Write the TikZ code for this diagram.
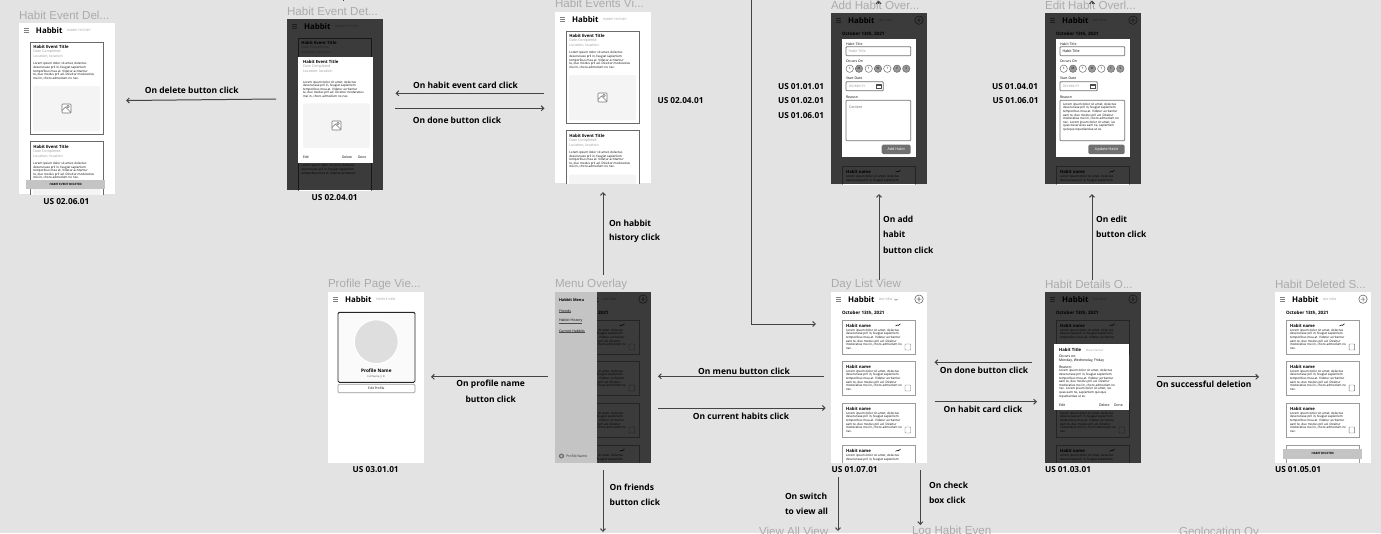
\documentclass[tikz,border=0pt]{standalone}
\usepackage{fontspec}
\setmainfont{Open Sans}
\newfontfamily\figf{Liberation Sans}
\usetikzlibrary{arrows.meta}
\definecolor{bgc}{HTML}{E3E3E3}
\definecolor{linec}{HTML}{444444}
\definecolor{titlec}{HTML}{ABABAB}
\definecolor{grayt}{HTML}{9A9A9A}
\definecolor{cardl}{HTML}{9C9C9C}
\definecolor{evl}{HTML}{6A6A6A}
\definecolor{imgc}{HTML}{F4F4F4}
\definecolor{toastc}{HTML}{C4C4C4}
\definecolor{btnc}{HTML}{707070}
\newcommand\fs[2]{\fontsize{#1}{#2}\selectfont}
\tikzset{
  t/.style={inner sep=0pt,outer sep=0pt,anchor=west},
  conn/.style={draw=linec,line width=.75pt,-{Straight Barb[length=2pt,width=3.8pt]}},
  plainl/.style={draw=linec,line width=.75pt},
  frametitle/.style={t,text=titlec,font=\figf\fs{8.7}{9}},
  act/.style={inner sep=0pt,outer sep=0pt,text=black,font=\fs{6.35}{7}\bfseries},
  actl/.style={act,anchor=west},
  us/.style={inner sep=0pt,outer sep=0pt,text=black,font=\fs{6.2}{7}\bfseries},
  burger/.style={draw=black!50,line width=.45pt},
  cardb/.style={draw=cardl,line width=.65pt,fill=white},
  evb/.style={draw=evl,line width=.65pt,fill=white},
  mini/.style={t,font=\fs{2.6}{2.8}},
  minib/.style={t,font=\fs{3.2}{3.4}\bfseries},
  graym/.style={t,text=grayt,font=\fs{2.7}{3}},
  body/.style={inner sep=0pt,outer sep=0pt,anchor=north west,align=left,font=\fs{2.3}{2.7}},
  field/.style={draw=black!55,line width=.6pt,rounded corners=.6pt,fill=white},
  dim/.style={fill=black,opacity=.77},
  toast/.style={fill=toastc},
}
\newcommand\loremsix{Lorem ipsum dolor sit amet, dolectus\\deserunase pril in, feugiat sapienlem\\temporibus mea at. Videtur acritantur\\eam te, duo modus pril ad. Diceitur\\moderatius mei in, choro admodum no\\nec.}
\newcommand\loremtwo{Lorem ipsum dolor sit amet, dolectus\\deserunase pril in, feugiat sapienlem}
\newcommand\loremthree{Lorem ipsum dolor sit amet, dolectus\\deserunase pril in, feugiat sapienlem\\temporibus mea at. Videtur acritantur}
\newcommand\loremfive{Lorem ipsum dolor sit amet, dolectus\\deserunase pril in, feugiat sapienlem\\temporibus mea at. Videtur acritantur\\te, duo modus pril ad. Diceitur moderatius\\mei in, choro admodum no nec.}
\newcommand\appbar[2]{%
  \draw[burger] (5,5.3)--(10,5.3) (5,7.2)--(10,7.2) (5,9.1)--(10,9.1);
  \node[t,font=\fs{5.9}{6}\bfseries] (#1-brand) at (17,7.2) {Habbit};
  \node[t,text=grayt,font=\fs{2.25}{2.5}] (#1-sub) at (48,7.7) {#2};
}
\newcommand\plusicon{%
  \draw[black!65,line width=.4pt] (88,7.2) circle (4.2) (85.6,7.2)--(90.4,7.2) (88,4.8)--(88,9.6);
}
\newcommand\checkb[1]{%
  \draw[black!55,line width=.35pt,rounded corners=.4pt] (74,#1+24) rectangle (79.5,#1+30);
}
\newcommand\habitcard[2]{%
  \draw[cardb] (11.3,#2) rectangle (84,#2+34);
  \node[minib] (#1-title) at (15,#2+5.6) {Habit name};
  \node[body] (#1-body) at (15,#2+9) {\loremsix};
  \checkb{#2}
}
\newcommand\lastcard[2]{%
  \draw[cardb] (11.3,#2) rectangle (84,#2+34);
  \node[minib] (#1-title) at (15,#2+5.6) {Habit name};
  \node[body] (#1-body) at (15,#2+9) {\loremtwo};
}
\newcommand\trendicon[1]{%
  \draw[black,line width=.4pt] (64.5,#1+6)--(66.5,#1+5)--(67.5,#1+5.4)--(69.5,#1+3.8);
}
\newcommand\dayshell[2]{%
  \fill[white] (0,0) rectangle (96,170.5);
  \appbar{#1}{#2}
  \plusicon
  \node[t,font=\fs{3.4}{3.6}\bfseries] (#1-date) at (11,21) {October 13th, 2021};
}
\newcommand\dayscreen[2]{%
  \dayshell{#1}{#2}
  \habitcard{#1-c1}{28}\trendicon{28}
  \habitcard{#1-c2}{69}
  \habitcard{#1-c3}{111}
  \lastcard{#1-c4}{153.3}\trendicon{153.3}
}
\newcommand\imgicon[2]{%
  \draw[black!55,line width=.4pt,fill=white,rounded corners=.5pt] (#1-4.5,#2-4.5) rectangle (#1+4.5,#2+4.5);
  \draw[black!55,line width=.35pt] (#1-4.5,#2+2)--(#1-1,#2-1.5)--(#1+4.5,#2+4);
  \draw[black!55,line width=.35pt] (#1+1.5,#2-2) circle (1.2);
}
\newcommand\eventheads[3]{%
  \node[minib] (#1-title) at (#2,#3+5) {Habit Event Title};
  \node[graym] (#1-d) at (#2,#3+10) {Date Completed};
  \node[graym] (#1-l) at (#2,#3+14.6) {Location, location};
}
\newcommand\eventtexts[4]{%
  \eventheads{#1}{#2}{#3}
  \node[body] (#1-body) at (#2,#3+#4) {\loremfive};
}
\newcommand\eventcard[2]{%
  \draw[evb] (11.3,#2) rectangle (84.3,#2+92.3);
  \eventtexts{#1}{14.3}{#2}{20.5}
  \fill[imgc,rounded corners=1.5pt] (14,#2+44) rectangle (81,#2+89);
  \imgicon{47.5}{#2+66.5}
}
\newcommand\eventscreen[1]{%
  \fill[white] (0,0) rectangle (96,170.5);
  \appbar{#1}{HABBIT HISTORY}
  \eventcard{#1-e1}{19}
  \eventcard{#1-e2}{118.7}
}
\newcommand\overlayform[3]{%
  \fill[white] (10.7,26.3) rectangle (84.7,144.3);
  \node[mini] (#1-l1) at (15,31) {Habit Title};
  \draw[field] (15,33.7) rectangle (79.7,42.7);
  \node[t,font=\fs{2.7}{3},text=#2] (#1-f1) at (17.5,38.3) {Habit Title};
  \node[mini] (#1-l2) at (15,48.3) {Occurs On};
  \foreach \cx/\lt/\cf in {18.7/S/white,28/M/black!40,37.7/T/white,47/W/black!40,56.3/T/white,66/F/black!40,75.3/S/black!40}{
    \draw[black!60,line width=.35pt,fill=\cf] (\cx,55.7) circle (3.7);
    \node[inner sep=0pt,font=\fs{2.2}{2.4}] at (\cx,55.7) {\lt};
  }
  \node[mini] (#1-l3) at (15,65.3) {Start Date};
  \draw[field] (15,68.7) rectangle (52.3,77.7);
  \node[t,font=\fs{2.4}{3},text=grayt] (#1-f2) at (18,73.3) {DD/MM/YY};
  \draw[black!70,line width=.35pt] (45.5,70.8) rectangle (50,75.5) (45.5,71.9)--(50,71.9);
  \node[mini] (#1-l4) at (15,84) {Reason};
  \draw[field] (15,87.3) rectangle (79.7,127.7);
  #3
}
\newcommand\conn[5]{%
  \coordinate (#1-a) at (#2,#3);
  \coordinate (#1-b) at (#4,#5);
  \draw[conn] (#1-a) -- (#1-b);
}
\begin{document}
\begin{tikzpicture}[x=.75pt,y=-.75pt]
\useasboundingbox (0,0) rectangle (1381,533);
\fill[bgc] (0,0) rectangle (1381,533);
\clip (0,0) rectangle (1381,533);

% frame titles
\node[frametitle] (ttl1) at (19,15) {Habit Event Del...};
\node[frametitle] (ttl2) at (287,11) {Habit Event Det...};
\node[frametitle] (ttl3) at (555,3.5) {Habit Events Vi...};
\node[frametitle] (ttl4) at (831,5) {Add Habit Over...};
\node[frametitle] (ttl5) at (1045,5) {Edit Habit Overl...};
\node[frametitle] (ttl6) at (328,284) {Profile Page Vie...};
\node[frametitle] (ttl7) at (555,284) {Menu Overlay};
\node[frametitle] (ttl8) at (831,284) {Day List View};
\node[frametitle] (ttl9) at (1045,284) {Habit Details O...};
\node[frametitle] (ttl10) at (1275,284) {Habit Deleted S...};
\node[frametitle] (ttl11) at (759,531.5) {View All View};
\node[frametitle] (ttl12) at (912,531.5) {Log Habit Even};
\node[frametitle] (ttl13) at (1179,531.5) {Geolocation Ov};

% Habit Event Deleted
\begin{scope}[shift={(19,23)}]
  \clip (0,0) rectangle (96,171);
  \eventscreen{del}
  \fill[toast] (7.3,157) rectangle (86,166.3);
  \node[inner sep=0pt,font=\fs{2.2}{2.4}\bfseries] (del-toast) at (46.7,161.7) {HABIT EVENT DELETED};
\end{scope}

% Habit Event Details
\begin{scope}[shift={(287,19)}]
  \clip (0,0) rectangle (96,171);
  \fill[white] (0,0) rectangle (96,171);
  \appbar{det}{HABBIT HISTORY}
  \draw[evb] (11.3,19) rectangle (84.3,111.3);
  \eventheads{det-e1}{14.3}{19}
  \draw[evb] (11.3,118.7) rectangle (84.3,211);
  \node[body] (det-e2-body) at (14.3,145.6) {\loremthree};
  \fill[dim] (0,0) rectangle (96,171);
  \fill[white] (11,37.7) rectangle (85.7,144.3);
  \eventtexts{det-m}{16}{37.7}{24}
  \fill[imgc,rounded corners=1.5pt] (16,84.3) rectangle (82.7,129);
  \imgicon{49.5}{106.5}
  \node[mini,font=\fs{2.5}{2.8}] (det-edit) at (16,138.5) {Edit};
  \node[mini,font=\fs{2.5}{2.8}] (det-delete) at (55,138.5) {Delete};
  \node[mini,font=\fs{2.5}{2.8}] (det-done) at (71,138.5) {Done};
\end{scope}

% Habit Events View
\begin{scope}[shift={(555,12)}]
  \clip (0,0) rectangle (96,171);
  \eventscreen{evv}
\end{scope}

% Add Habit Overlay
\begin{scope}[shift={(831,13)}]
  \clip (0,0) rectangle (96,171);
  \dayshell{add}{DAY VIEW}
  \lastcard{add-c4}{153.3}\trendicon{153.3}
  \fill[dim] (0,0) rectangle (96,171);
  \overlayform{add}{grayt}{%
    \node[t,font=\fs{2.7}{3},text=black!60] (add-cnt) at (18,94.3) {Content};
    \fill[btnc,rounded corners=1pt] (50.7,131.7) rectangle (79.7,141);
    \node[inner sep=0pt,text=white,font=\fs{2.8}{3}] (add-btn) at (65.2,136.4) {Add Habit};}
\end{scope}

% Edit Habit Overlay
\begin{scope}[shift={(1045,13)}]
  \clip (0,0) rectangle (96,171);
  \dayshell{edit}{DAY VIEW}
  \lastcard{edit-c4}{153.3}\trendicon{153.3}
  \fill[dim] (0,0) rectangle (96,171);
  \overlayform{edit}{black}{%
    \node[body] (edit-body) at (18,90) {Lorem ipsum dolor sit amet, dolectus\\deserunase pril in, feugiat sapienlem\\temporibus mea at. Videtur acritantur\\eam te, duo modus pril ad. Diceitur\\moderatius mei in, choro admodum no\\nec. Lorem ipsum dolor sit amet, ius\\quas deseruisse eam ne, sapientem\\quisque repudiandae ut ex.};
    \fill[btnc,rounded corners=1pt] (43.3,131.7) rectangle (79.7,141);
    \node[inner sep=0pt,text=white,font=\fs{2.8}{3}] (edit-btn) at (61.5,136.4) {Update Habit};}
\end{scope}

% Profile Page View
\begin{scope}[shift={(328,292)}]
  \clip (0,0) rectangle (96,170.5);
  \fill[white] (0,0) rectangle (96,170.5);
  \appbar{prof}{PROFILE VIEW}
  \draw[black!85,line width=.7pt,rounded corners=1pt,fill=black!2] (10,20.3) rectangle (87,90.3);
  \draw[white,line width=.8pt,fill=black!13] (48.3,49.7) circle (22);
  \node[inner sep=0pt,font=\fs{3.5}{3.7}\bfseries] (prof-name) at (48.3,78.3) {Profile Name};
  \node[inner sep=0pt,text=black!70,font=\fs{1.9}{2.2}] (prof-full) at (48.3,85) {Full Name, Jr III};
  \draw[draw=black!40,line width=.5pt,rounded corners=.8pt] (10,92.3) rectangle (87,100.7);
  \node[inner sep=0pt,font=\fs{2.4}{2.6}] (prof-edit) at (48.3,96.5) {Edit Profile};
\end{scope}

% Menu Overlay
\begin{scope}[shift={(555,292)}]
  \clip (0,0) rectangle (96,170.5);
  \dayscreen{men}{DAY VIEW}
  \fill[dim] (0,0) rectangle (96,171);
  \fill[toastc] (0,0) rectangle (42,170.5);
  \node[t,font=\fs{2.9}{3}\bfseries] (men-title) at (4,7.7) {Habbit Menu};
  \node[t,font=\fs{2.6}{2.8}] (men-a) at (4,19) {Friends};
  \node[t,font=\fs{2.6}{2.8}] (men-b) at (4,29) {Habbit History};
  \node[t,font=\fs{2.6}{2.8}] (men-c) at (4,39) {Current Habbits};
  \draw[black!70,line width=.2pt] ([yshift=-.2pt]men-a.south west)--([yshift=-.2pt]men-a.south east)
    ([yshift=-.2pt]men-b.south west)--([yshift=-.2pt]men-b.south east)
    ([yshift=-.2pt]men-c.south west)--([yshift=-.2pt]men-c.south east);
  \draw[black!65,line width=.5pt,fill=black!35] (6.5,164) circle (2.1);
  \node[t,text=black!80,font=\fs{2.6}{2.8}] (men-prof) at (11.3,164) {Profile Name};
\end{scope}

% Day List View
\begin{scope}[shift={(831,292)}]
  \clip (0,0) rectangle (96,170.5);
  \dayscreen{day}{DAY VIEW}
  \draw[black!60,line width=.3pt] (63.6,7.1)--(65,8.4)--(66.4,7.1);
\end{scope}

% Habit Details Overlay
\begin{scope}[shift={(1045,292)}]
  \clip (0,0) rectangle (96,170.5);
  \dayshell{hd}{DAY VIEW}
  \draw[cardb] (11.3,28) rectangle (84,62);
  \node[minib] (hd-c1-title) at (15,33.6) {Habit name};
  \node[body] (hd-c1-body) at (15,37) {\loremthree};
  \trendicon{28}
  \draw[cardb] (11.3,111) rectangle (84,145);
  \node[body] (hd-c3-body) at (15,120) {\loremsix};
  \checkb{111}
  \lastcard{hd-c4}{153.3}\trendicon{153.3}
  \fill[dim] (0,0) rectangle (96,171);
  \fill[white] (9.3,52) rectangle (84,118.3);
  \node[minib] (hd-t) at (14,57.7) {Habit Title};
  \node[graym,font=\fs{2.2}{2.6}] (hd-d) at (41,57.9) {Date Started};
  \node[mini] (hd-o) at (14,64.3) {Occurs on:};
  \node[mini] (hd-w) at (14,68.5) {Monday, Wednesday, Friday};
  \node[mini] (hd-r) at (14,75.3) {Reason:};
  \node[body] (hd-b) at (14,77.6) {Lorem ipsum dolor sit amet, dolectus\\deserunase pril in, feugiat sapienlem\\temporibus mea at. Videtur acritantur\\eam te, duo modus pril ad. Diceitur\\moderatius mei in, choro admodum no\\nec. Lorem ipsum dolor sit amet, ius\\quas eam ne, sapientem quisque\\repudiandae ut ex.};
  \node[mini] (hd-e) at (14,113) {Edit};
  \node[mini] (hd-x) at (54,113) {Delete};
  \node[mini] (hd-n) at (69,113) {Done};
\end{scope}

% Habit Deleted Screen
\begin{scope}[shift={(1275,292)}]
  \clip (0,0) rectangle (96,170.5);
  \dayshell{hds}{DAY VIEW}
  \habitcard{hds-c1}{28}\trendicon{28}
  \habitcard{hds-c2}{69}
  \habitcard{hds-c3}{111}
  \draw[cardb] (11.3,153.3) rectangle (84,187.3);
  \fill[toast] (8.3,157) rectangle (87,166.7);
  \node[inner sep=0pt,font=\fs{2.2}{2.4}\bfseries] (hds-toast) at (47.7,161.8) {HABIT DELETED};
\end{scope}

% connectors
\conn{a1}{276}{99}{126}{100.5}
\conn{a2}{544}{93.3}{395.5}{93.3}
\conn{a3}{395}{108.3}{544.5}{108.3}
\conn{a4}{603}{275}{603}{192}
\conn{a5}{879}{280}{879}{194}
\conn{a6}{1092}{280}{1092}{194}
\coordinate (a7-a) at (751,-2);
\coordinate (a7-c) at (751,324);
\coordinate (a7-b) at (816,324);
\draw[conn] (a7-a) -- (a7-c) -- (a7-b);
\conn{a8}{548}{376.8}{431}{376.8}
\conn{a9}{823.7}{376.3}{658}{376.3}
\conn{a10}{658}{408}{825.7}{408}
\conn{a11}{1032}{362.3}{934.5}{362.3}
\conn{a12}{934.5}{401.7}{1037}{401.7}
\conn{a13}{1157}{376.8}{1259}{376.8}
\conn{a14}{603}{470}{603}{532}
\conn{a15}{838}{477}{838}{531}
\conn{a16}{920.3}{470}{920.3}{525}
\conn{a17}{878.5}{3.5}{878.5}{.5}
\conn{a18}{1092}{3.5}{1092}{.5}
\coordinate (a19-a) at (343,1);
\coordinate (a19-b) at (343,-2);
\draw[plainl] (a19-a) -- (a19-b);

% action labels
\node[act] (l1) at (191.7,90.7) {On delete button click};
\node[act] (l2) at (465.5,85.3) {On habit event card click};
\node[act] (l3) at (457,120) {On done button click};
\node[actl] (l4) at (609,223) {On habbit};
\node[actl] (l5) at (609,238) {history click};
\node[actl] (l6) at (883,219) {On add};
\node[actl] (l7) at (883,234.5) {habit};
\node[actl] (l8) at (883,250) {button click};
\node[actl] (l9) at (1096,219) {On edit};
\node[actl] (l10) at (1096,234.5) {button click};
\node[act] (l11) at (490.7,384.7) {On profile name};
\node[act] (l12) at (490.7,399.7) {button click};
\node[act] (l13) at (744,371.3) {On menu button click};
\node[act] (l14) at (741,416) {On current habits click};
\node[act] (l15) at (984,370.3) {On done button click};
\node[act] (l16) at (983,409.3) {On habit card click};
\node[act] (l17) at (1204,384.7) {On successful deletion};
\node[actl] (l18) at (609.7,487.3) {On friends};
\node[actl] (l19) at (609.7,502) {button click};
\node[actl] (l20) at (785,496.7) {On switch};
\node[actl] (l21) at (785,511.5) {to view all};
\node[actl] (l22) at (929,485.7) {On check};
\node[actl] (l23) at (929,500.7) {box click};

% user story labels
\node[us] (u1) at (66.3,201.7) {US 02.06.01};
\node[us] (u2) at (334.7,197.7) {US 02.04.01};
\node[us] (u3) at (680.5,101) {US 02.04.01};
\node[us] (u4) at (801,86.7) {US 01.01.01};
\node[us] (u5) at (801,101) {US 01.02.01};
\node[us] (u6) at (801,116) {US 01.06.01};
\node[us] (u7) at (1015,86.7) {US 01.04.01};
\node[us] (u8) at (1015.5,101) {US 01.06.01};
\node[us] (u9) at (375.7,470) {US 03.01.01};
\node[us] (u10) at (854.7,470) {US 01.07.01};
\node[us] (u11) at (1068,470) {US 01.03.01};
\node[us] (u12) at (1298,470) {US 01.05.01};
\end{tikzpicture}
\end{document}
